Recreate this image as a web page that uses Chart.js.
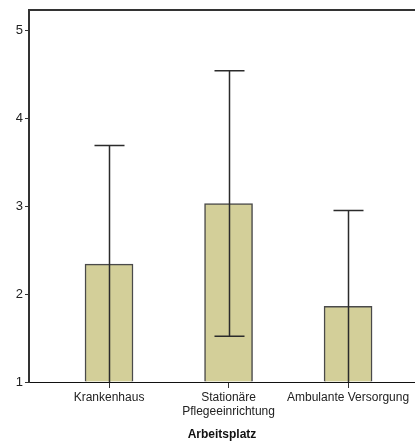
<!DOCTYPE html>
<html>
<head>
<meta charset="utf-8">
<script src="https://cdn.jsdelivr.net/npm/chart.js@4.4.1/dist/chart.umd.min.js"></script>
<style>
html,body{margin:0;padding:0;background:#fff;}
#wrap{width:415px;height:442px;position:relative;}
</style>
</head>
<body>
<div id="wrap"><canvas id="c" width="415" height="442"></canvas></div>
<script>
const categories = ["Krankenhaus", "Stationäre\nPflegeeinrichtung", "Ambulante Versorgung"];
const positions = [1, 2, 3];
const means = [2.34, 3.03, 1.86];
const errorUpper = [3.69, 4.54, 2.95];
const errorLower = [0.99, 1.52, 0.77];
const yTicks = [1, 2, 3, 4, 5];
const axisTitle = "Arbeitsplatz";

const FONT = "'Liberation Sans', Arial, sans-serif";

const errorBars = {
  id: 'errorBars',
  afterDatasetsDraw(chart) {
    const ctx = chart.ctx, xs = chart.scales.x, ys = chart.scales.y, a = chart.chartArea;
    ctx.save();
    ctx.beginPath();
    ctx.rect(a.left, a.top, a.right - a.left, a.bottom - a.top);
    ctx.clip();
    ctx.strokeStyle = '#2b2b2b';
    ctx.lineWidth = 1.5;
    const cap = 15;
    positions.forEach((p, i) => {
      const x = Math.round(xs.getPixelForValue(p)) + 0.5;
      const yT = ys.getPixelForValue(errorUpper[i]);
      const yB = ys.getPixelForValue(errorLower[i]);
      ctx.beginPath();
      ctx.moveTo(x, yT); ctx.lineTo(x, yB);
      ctx.moveTo(x - cap, yT); ctx.lineTo(x + cap, yT);
      ctx.moveTo(x - cap, yB); ctx.lineTo(x + cap, yB);
      ctx.stroke();
    });
    ctx.restore();
  }
};

const frame = {
  id: 'frame',
  afterDraw(chart) {
    const ctx = chart.ctx, a = chart.chartArea;
    ctx.save();
    ctx.strokeStyle = '#333';
    ctx.lineWidth = 2;
    ctx.beginPath();
    ctx.moveTo(a.left - 1, a.top);
    ctx.lineTo(chart.width, a.top);
    ctx.stroke();
    ctx.restore();
  }
};

new Chart(document.getElementById('c'), {
  type: 'bar',
  data: {
    datasets: [{
      data: positions.map((p, i) => ({x: p, y: means[i]})),
      backgroundColor: '#d3cf99',
      borderColor: '#4a4a4a',
      borderWidth: 1.5,
      barThickness: 48,
      base: 1
    }]
  },
  options: {
    responsive: false,
    animation: false,
    layout: {padding: {top: 10, right: 0, left: 0, bottom: 0}},
    plugins: {legend: {display: false}, tooltip: {enabled: false}},
    scales: {
      x: {
        type: 'linear',
        offset: false,
        min: 0.3305,
        max: 3.56,
        afterBuildTicks(s) { s.ticks = positions.map(v => ({value: v})); },
        afterFit(s) { s.height = 60; },
        ticks: {
          autoSkip: false,
          maxRotation: 0,
          padding: 2,
          color: '#222',
          font: {family: FONT, size: 12},
          callback(v) {
            const i = positions.indexOf(v);
            return i >= 0 ? categories[i].split('\n') : '';
          }
        },
        grid: {display: true, offset: false, drawOnChartArea: false, drawTicks: true, tickLength: 6, color: '#333'},
        border: {display: true, color: '#111', width: 1},
        title: {display: true, text: axisTitle, color: '#111', font: {family: FONT, size: 12, weight: 'bold'}, padding: {top: 8, bottom: 0}}
      },
      y: {
        min: 1,
        max: 5.23,
        afterBuildTicks(s) { s.ticks = yTicks.map(v => ({value: v})); },
        afterFit(s) { s.width = 29; },
        ticks: {color: '#222', font: {family: FONT, size: 13}, padding: 2},
        grid: {display: true, drawOnChartArea: false, drawTicks: true, tickLength: 4, color: '#333'},
        border: {display: true, color: '#333', width: 2}
      }
    }
  },
  plugins: [errorBars, frame]
});
</script>
</body>
</html>
